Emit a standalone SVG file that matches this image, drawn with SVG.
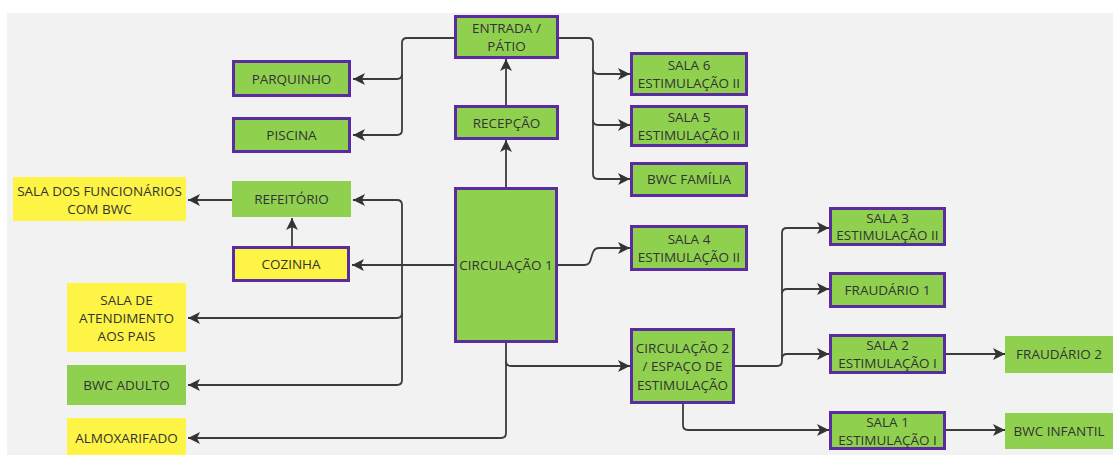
<svg xmlns="http://www.w3.org/2000/svg" width="1113" height="455" viewBox="0 0 1113 455">
<defs>
<style>
.g{fill:#8fd14f}
.y{fill:#fef445}
.b{stroke:#5b2ca0;stroke-width:3}
.t{font-family:"Open Sans","Liberation Sans",sans-serif;font-size:13.5px;fill:#333;text-anchor:middle}
.c{fill:none;stroke:#3c3c3c;stroke-width:1.8;stroke-linejoin:round}
.a{marker-end:url(#ar)}
</style>
<marker id="ar" markerUnits="userSpaceOnUse" markerWidth="12" markerHeight="12" refX="10" refY="5" orient="auto" viewBox="0 0 10 10">
<path d="M0,0 L10,5 L0,10 L2.5,5 z" fill="#333"/>
</marker>
</defs>
<rect width="1113" height="455" fill="#ffffff"/>
<rect x="7" y="13" width="1106" height="442" fill="#f2f2f2"/>

<g id="connectors">
<path class="c a" d="M506,187 V140"/>
<path class="c a" d="M506,105 V59"/>
<path class="c a" d="M454,38 H407 Q402,38 402,43 V74 Q402,79 397,79 H353"/>
<path class="c a" d="M402,74 V130 Q402,135 397,135 H353"/>
<path class="c a" d="M559,38 H588 Q593,38 593,43 V69 Q593,74 598,74 H630"/>
<path class="c a" d="M593,69 V120 Q593,125 598,125 H630"/>
<path class="c a" d="M593,120 V174 Q593,179 598,179 H630"/>
<path class="c a" d="M558,265 H585 C594,265 589,248 599,248 H630"/>
<path class="c a" d="M454,265 H402 V205 Q402,200 397,200 H353"/>
<path class="c a" d="M402,265 H352"/>
<path class="c a" d="M402,265 V313 Q402,318 397,318 H188"/>
<path class="c a" d="M402,313 V380 Q402,385 397,385 H188"/>
<path class="c a" d="M292,246 V218"/>
<path class="c a" d="M232,200 H188"/>
<path class="c a" d="M506,343 V361 Q506,366 511,366 H630"/>
<path class="c a" d="M506,361 V433 Q506,438 501,438 H188"/>
<path class="c a" d="M735,366 H777 Q782,366 782,361 V233 Q782,228 787,228 H829"/>
<path class="c a" d="M782,294 Q782,289 787,289 H829"/>
<path class="c a" d="M782,359 Q782,354 787,354 H829"/>
<path class="c a" d="M683,404 V425 Q683,430 688,430 H829"/>
<path class="c a" d="M946,354 H1005"/>
<path class="c a" d="M946,430 H1005"/>
</g>

<g id="entrada"><rect class="g b" x="455.5" y="16.5" width="102" height="41"/><text class="t" x="506.5" y="33">ENTRADA /</text><text class="t" x="506.5" y="51">PÁTIO</text></g>
<g id="recepcao"><rect class="g b" x="455.5" y="106.5" width="102" height="32"/><text class="t" x="506.5" y="127.5">RECEPÇÃO</text></g>
<g id="circulacao1"><rect class="g b" x="455.5" y="188.5" width="101" height="153"/><text class="t" x="506" y="270">CIRCULAÇÃO 1</text></g>
<g id="parquinho"><rect class="g b" x="233.5" y="61.5" width="116" height="34"/><text class="t" x="291.5" y="83.5">PARQUINHO</text></g>
<g id="piscina"><rect class="g b" x="233.5" y="118.5" width="116" height="33"/><text class="t" x="291.5" y="139.5">PISCINA</text></g>
<g id="refeitorio"><rect class="g" x="232" y="181" width="119" height="36"/><text class="t" x="291.5" y="204">REFEITÓRIO</text></g>
<g id="sala-funcionarios"><rect class="y" x="13" y="177" width="173" height="44"/><text class="t" x="99.5" y="196">SALA DOS FUNCIONÁRIOS</text><text class="t" x="99.5" y="214">COM BWC</text></g>
<g id="cozinha"><rect class="y b" x="233.5" y="247.5" width="115" height="33"/><text class="t" x="291" y="268.5">COZINHA</text></g>
<g id="sala-atendimento"><rect class="y" x="67" y="283" width="119" height="69"/><text class="t" x="126.5" y="304.5">SALA DE</text><text class="t" x="126.5" y="322.5">ATENDIMENTO</text><text class="t" x="126.5" y="341">AOS PAIS</text></g>
<g id="bwc-adulto"><rect class="g" x="67" y="365" width="119" height="40"/><text class="t" x="126.5" y="389.5">BWC ADULTO</text></g>
<g id="almoxarifado"><rect class="y" x="67" y="418" width="119" height="42"/><text class="t" x="126.5" y="443">ALMOXARIFADO</text></g>
<g id="sala6"><rect class="g b" x="631.5" y="53.5" width="115" height="41"/><text class="t" x="689" y="70">SALA 6</text><text class="t" x="689" y="88">ESTIMULAÇÃO II</text></g>
<g id="sala5"><rect class="g b" x="631.5" y="106.5" width="115" height="39"/><text class="t" x="689" y="122">SALA 5</text><text class="t" x="689" y="140">ESTIMULAÇÃO II</text></g>
<g id="bwc-familia"><rect class="g b" x="631.5" y="163.5" width="115" height="32"/><text class="t" x="689" y="184">BWC FAMÍLIA</text></g>
<g id="sala4"><rect class="g b" x="631.5" y="226.5" width="115" height="43"/><text class="t" x="689" y="244">SALA 4</text><text class="t" x="689" y="262">ESTIMULAÇÃO II</text></g>
<g id="circulacao2"><rect class="g b" x="631.5" y="329.5" width="102" height="73"/><text class="t" x="682.5" y="352.5">CIRCULAÇÃO 2</text><text class="t" x="682.5" y="371">/ ESPAÇO DE</text><text class="t" x="682.5" y="389.5">ESTIMULAÇÃO</text></g>
<g id="sala3"><rect class="g b" x="830.5" y="208.5" width="114" height="36"/><text class="t" x="887.5" y="222.5">SALA 3</text><text class="t" x="887.5" y="240">ESTIMULAÇÃO II</text></g>
<g id="fraudario1"><rect class="g b" x="830.5" y="273.5" width="114" height="33"/><text class="t" x="887.5" y="294.5">FRAUDÁRIO 1</text></g>
<g id="sala2"><rect class="g b" x="830.5" y="335.5" width="114" height="37"/><text class="t" x="887.5" y="350">SALA 2</text><text class="t" x="887.5" y="368">ESTIMULAÇÃO I</text></g>
<g id="sala1"><rect class="g b" x="830.5" y="412.5" width="114" height="36"/><text class="t" x="887.5" y="426.5">SALA 1</text><text class="t" x="887.5" y="444.5">ESTIMULAÇÃO I</text></g>
<g id="fraudario2"><rect class="g" x="1005" y="336" width="108" height="37"/><text class="t" x="1059" y="359">FRAUDÁRIO 2</text></g>
<g id="bwc-infantil"><rect class="g" x="1005" y="413" width="108" height="36"/><text class="t" x="1059" y="435.5">BWC INFANTIL</text></g>
</svg>
